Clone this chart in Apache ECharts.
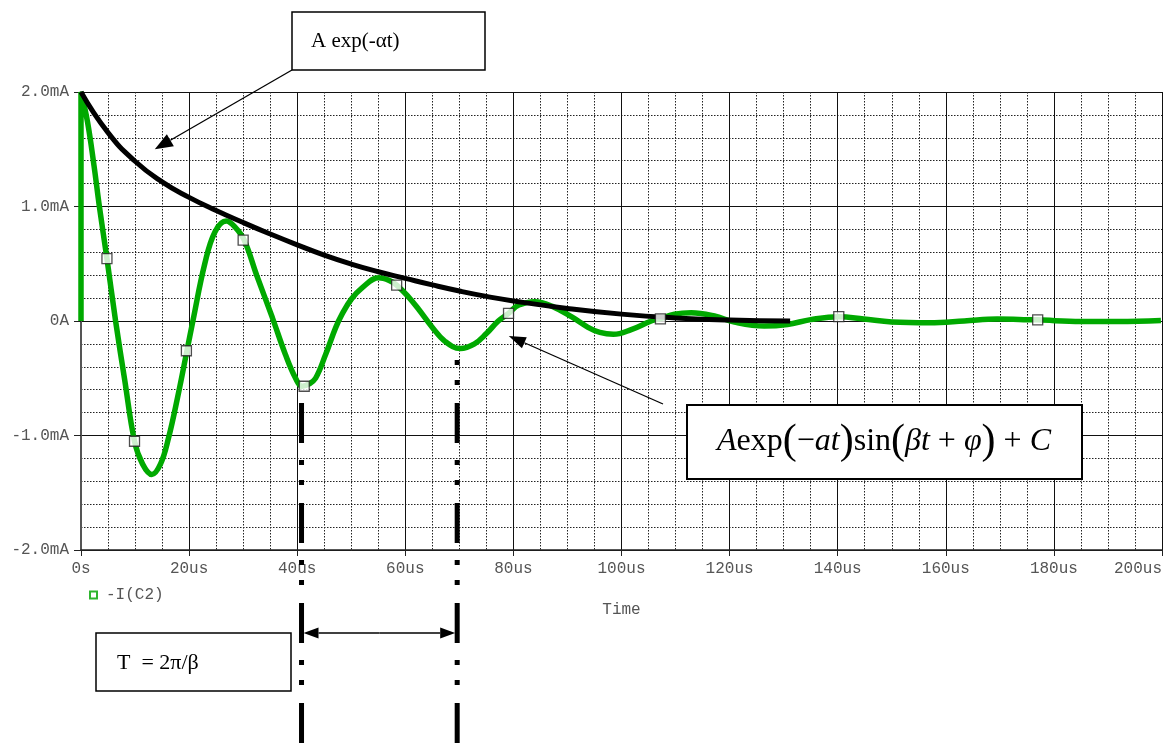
<!DOCTYPE html>
<html>
<head>
<meta charset="utf-8">
<script src="https://cdn.jsdelivr.net/npm/echarts@6/dist/echarts.min.js"></script>
<style>
html,body{margin:0;padding:0;background:#fff;}
#main{width:1165px;height:743px;}
</style>
</head>
<body>
<div id="main"></div>
<script>
// ---- data (time in us, current in mA) ----
const greenT = [0,0,1.2,2.4,3.4,4.8,6.4,8.1,9.9,11.4,13.1,14.7,16.2,17.9,19.6,20.7,22.9,24.8,26.9,28.5,30.2,32.5,35.4,37.8,39.7,40.9,42.2,43.4,45.2,47.1,48.3,50.0,52.0,55.1,57.0,58.4,60.5,62.5,64.9,67.4,70.2,72.8,75.0,77.2,79.1,81.0,84.0,87.1,90.8,93.8,96.0,98.5,101.8,105.5,107.2,109.8,112.9,117.2,120.9,126.4,130.7,135.0,140.2,144.8,150.0,157.0,163.4,169.5,174.4,177.0,185.0,192.0,199.8];
const greenI = [0,2.0,1.74,1.36,1.0,0.544,0.0,-0.52,-1.05,-1.25,-1.34,-1.25,-1.02,-0.66,-0.26,0.0,0.50,0.78,0.873,0.82,0.707,0.40,0.03,-0.29,-0.50,-0.57,-0.55,-0.50,-0.30,-0.06,0.06,0.19,0.29,0.378,0.355,0.314,0.215,0.10,-0.05,-0.18,-0.24,-0.20,-0.11,0.0,0.067,0.14,0.169,0.13,0.035,-0.055,-0.10,-0.116,-0.075,0.0,0.02,0.06,0.073,0.044,-0.01,-0.044,-0.03,0.012,0.038,0.018,-0.008,-0.015,0.0,0.018,0.012,0.01,-0.004,-0.004,0.005];
const blackT = [0,5,10,15,20,25,30,35,40,45,50,55,60,65,70,75,80,90,100,110,120,131.2];
const blackI = [2.0,1.645,1.395,1.215,1.08,0.965,0.86,0.76,0.665,0.575,0.497,0.43,0.372,0.315,0.262,0.215,0.175,0.11,0.06,0.027,0.008,0.0];
const markT = [4.8,9.9,19.5,30.0,41.3,58.4,79.1,107.2,140.2,177.0];
const markI = [0.544,-1.05,-0.26,0.707,-0.57,0.314,0.067,0.018,0.038,0.01];
const xTickValues = [0,20,40,60,80,100,120,140,160,180,200];
const xTickLabels = ['0s','20us','40us','60us','80us','100us','120us','140us','160us','180us','200us'];
const yTickValues = [-2,-1,0,1,2];
const yTickLabels = ['-2.0mA','-1.0mA','0A','1.0mA','2.0mA'];
const seriesName = '-I(C2)';
// annotation anchors in data units
const periodT = [40.8, 69.6];
const periodStartI = [-0.63, -0.26];
const arrowTipExp = [13.65, 1.50];
const arrowTipSin = [79.15, -0.13];

const zip = (a,b) => a.map((v,i) => [v, b[i]]);
const mono = 'Liberation Mono, DejaVu Sans Mono, monospace';
const serif = 'Liberation Serif, DejaVu Serif, serif';
const GREEN = '#00a900';

const chart = echarts.init(document.getElementById('main'));
const option = {
  animation: false,
  backgroundColor: '#fff',
  grid: {left: 81, right: 0, top: 92, bottom: 193},
  legend: {
    left: 84, top: 582, selectedMode: false,
    itemWidth: 7, itemHeight: 7,
    data: [{name: seriesName, icon: 'rect', itemStyle: {color: '#fff', borderColor: '#2fb52f', borderWidth: 2}}],
    textStyle: {fontFamily: mono, fontSize: 16, color: '#555', padding: [0,0,0,4]}
  },
  xAxis: {
    type: 'value', min: 0, max: 200, interval: 20,
    name: 'Time', nameLocation: 'middle', nameGap: 52,
    nameTextStyle: {fontFamily: mono, fontSize: 16, color: '#555'},
    axisLine: {show: true, onZero: false, lineStyle: {color: '#222', width: 1.5}},
    axisTick: {show: true, length: 6, lineStyle: {color: '#222'}},
    axisLabel: {
      fontFamily: mono, fontSize: 16, color: '#555', margin: 11, alignMaxLabel: 'right',
      formatter: v => { const k = xTickValues.indexOf(v); return k >= 0 ? xTickLabels[k] : ''; }
    },
    splitLine: {show: true, lineStyle: {color: '#111', width: 1}},
    minorTick: {show: false, splitNumber: 4},
    minorSplitLine: {show: true, lineStyle: {color: '#222', width: 1, type: [1.5, 1.5]}}
  },
  yAxis: {
    type: 'value', min: -2, max: 2, interval: 1,
    axisLine: {show: true, onZero: false, lineStyle: {color: '#555', width: 2}},
    axisTick: {show: true, length: 7, lineStyle: {color: '#222'}},
    axisLabel: {
      fontFamily: mono, fontSize: 16, color: '#555', margin: 12,
      formatter: v => { const k = yTickValues.indexOf(v); return k >= 0 ? yTickLabels[k] : ''; }
    },
    splitLine: {show: true, lineStyle: {color: '#111', width: 1}},
    minorTick: {show: false, splitNumber: 5},
    minorSplitLine: {show: true, lineStyle: {color: '#222', width: 1, type: [1.5, 1.5]}}
  },
  series: [
    {
      name: seriesName, type: 'line', data: zip(greenT, greenI),
      smooth: 0.4, showSymbol: false, symbol: 'none', z: 3,
      lineStyle: {color: GREEN, width: 5.5}, itemStyle: {color: GREEN}
    },
    {
      name: 'envelope', type: 'line', data: zip(blackT, blackI),
      smooth: 0.5, showSymbol: false, symbol: 'none', z: 4,
      lineStyle: {color: '#000', width: 5}
    },
    {
      name: 'markers', type: 'scatter', data: zip(markT, markI),
      symbol: 'rect', symbolSize: 10, z: 5,
      itemStyle: {color: '#fff', borderColor: '#222', borderWidth: 1.3}
    }
  ]
};
chart.setOption(option);

function px(t, v) { return chart.convertToPixel({gridIndex: 0}, [t, v]); }
function arrow(x1, y1, x2, y2, len, half, lw) {
  const dx = x2 - x1, dy = y2 - y1, L = Math.hypot(dx, dy), ux = dx / L, uy = dy / L;
  const bx = x2 - ux * len, by = y2 - uy * len;
  return [
    {type: 'line', z: 100, shape: {x1: x1, y1: y1, x2: bx, y2: by}, style: {stroke: '#000', lineWidth: lw}},
    {type: 'polygon', z: 100, shape: {points: [[x2, y2], [bx - uy * half, by + ux * half], [bx + uy * half, by - ux * half]]}, style: {fill: '#000'}}
  ];
}
const g = [];
// envelope label box
g.push({type: 'rect', z: 100, shape: {x: 292, y: 12, width: 193, height: 58}, style: {fill: '#fff', stroke: '#000', lineWidth: 1.5}});
g.push({type: 'text', z: 101, style: {x: 311, y: 41, text: 'A exp(-\u03b1t)', font: '21px ' + serif, fill: '#000', verticalAlign: 'middle', align: 'left'}});
const tip1 = px(arrowTipExp[0], arrowTipExp[1]);
g.push(...arrow(292, 70, tip1[0], tip1[1], 18, 7, 1.3));
// formula box
g.push({type: 'rect', z: 100, shape: {x: 687, y: 405, width: 395, height: 74}, style: {fill: '#fff', stroke: '#000', lineWidth: 2}});
g.push({type: 'text', z: 101, style: {
  x: 884, y: 442, align: 'center', verticalAlign: 'middle', fill: '#000',
  text: '{i|A}{r|exp}{p|(}{r|\u2212}{i|at}{p|)}{r|sin}{p|(}{i|\u03b2t}{r| + }{i|\u03c6}{p|)}{r| + }{i|C}',
  rich: {
    i: {fontFamily: serif, fontStyle: 'italic', fontSize: 32, fill: '#000'},
    r: {fontFamily: serif, fontSize: 32, fill: '#000'},
    p: {fontFamily: serif, fontSize: 42, fill: '#000'}
  }
}});
const tip2 = px(arrowTipSin[0], arrowTipSin[1]);
g.push(...arrow(663, 404, tip2[0], tip2[1], 17, 6, 1.3));
// period lines
const xs = [];
for (let k = 0; k < periodT.length; k++) {
  const p = px(periodT[k], periodStartI[k]);
  xs.push(p[0]);
  const off = (((p[1] - 403) % 100) + 100) % 100;
  g.push({type: 'line', z: 100, shape: {x1: p[0], y1: p[1], x2: p[0], y2: 743},
    style: {stroke: '#000', lineWidth: 5, lineDash: [40, 17, 5, 15, 5, 18], lineDashOffset: off}});
}
const midX = (xs[0] + xs[1]) / 2;
g.push(...arrow(midX, 633, xs[0] + 2, 633, 15, 5.5, 1.5));
g.push(...arrow(midX, 633, xs[1] - 2, 633, 15, 5.5, 1.5));
// period label box
g.push({type: 'rect', z: 100, shape: {x: 96, y: 633, width: 195, height: 58}, style: {fill: '#fff', stroke: '#000', lineWidth: 1.5}});
g.push({type: 'text', z: 101, style: {x: 117, y: 663, text: 'T  = 2\u03c0/\u03b2', font: '22px ' + serif, fill: '#000', verticalAlign: 'middle', align: 'left'}});
chart.setOption({graphic: g});
</script>
</body>
</html>
